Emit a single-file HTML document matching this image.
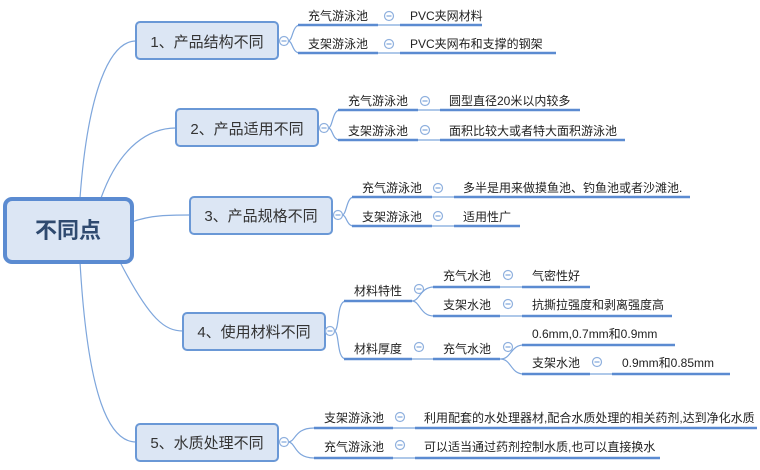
<!DOCTYPE html>
<html><head><meta charset="utf-8"><style>
html,body{margin:0;padding:0;background:#fff;}
svg{display:block;}
text{font-family:"Liberation Sans","Noto Sans CJK SC",sans-serif;fill:#222;}
.b{font-size:15px;fill:#333;}
.l{font-size:12px;}
.u{stroke:#5b8bd1;stroke-width:2.5;fill:none;}
.c{stroke:#7ea6dc;stroke-width:1.2;fill:none;}
.bx{fill:#dce6f4;stroke:#6a98d6;stroke-width:2;}
</style></head><body>
<svg width="760" height="470" viewBox="0 0 760 470" xmlns="http://www.w3.org/2000/svg">
<defs>
<g id="m"><circle cx="0" cy="0" r="4.5" fill="#fff" stroke="#8fb0de" stroke-width="1.2"/><line x1="-2.5" y1="0" x2="2.5" y2="0" stroke="#7ea6dc" stroke-width="1.2"/></g>
</defs>
<path class="c" d="M80,198 C88,90 110,41 136,41"/>
<path class="c" d="M101,198 C120,145 150,128 176,128"/>
<path class="c" d="M132,222 C150,215 170,215 190,215"/>
<path class="c" d="M120,262 C150,320 165,331 183,331"/>
<path class="c" d="M80,262 C88,400 110,442 136,442"/>
<rect x="5" y="199" width="127" height="63" rx="7" fill="#dce6f4" stroke="#5b8bd1" stroke-width="4"/>
<text x="68" y="238" text-anchor="middle" style="font-size:22px;font-weight:bold;fill:#2f4a6f">不同点</text>
<rect class="bx" x="136" y="22" width="142" height="37" rx="4"/><text class="b" x="207" y="47" text-anchor="middle">1、产品结构不同</text>
<rect class="bx" x="176" y="109" width="142" height="37" rx="4"/><text class="b" x="247" y="134" text-anchor="middle">2、产品适用不同</text>
<rect class="bx" x="190" y="197" width="142" height="37" rx="4"/><text class="b" x="261" y="221" text-anchor="middle">3、产品规格不同</text>
<rect class="bx" x="183" y="313" width="142" height="37" rx="4"/><text class="b" x="254" y="337" text-anchor="middle">4、使用材料不同</text>
<rect class="bx" x="136" y="424" width="142" height="37" rx="4"/><text class="b" x="207" y="448" text-anchor="middle">5、水质处理不同</text>

<path class="c" d="M288,41 C293,41 292,25 300,25 M288,41 C293,41 292,53 300,53"/>
<use href="#m" x="284" y="41"/>
<line class="u" x1="298" y1="25" x2="378" y2="25"/><text class="l" x="308" y="20">充气游泳池</text>
<line class="u" x1="298" y1="53" x2="378" y2="53"/><text class="l" x="308" y="48">支架游泳池</text>
<line class="c" x1="378" y1="25" x2="400" y2="25"/><line class="c" x1="378" y1="53" x2="400" y2="53"/>
<use href="#m" x="389" y="16"/><use href="#m" x="389" y="44"/>
<line class="u" x1="400" y1="25" x2="482" y2="25"/><text class="l" x="410" y="20">PVC夹网材料</text>
<line class="u" x1="400" y1="53" x2="556" y2="53"/><text class="l" x="410" y="48">PVC夹网布和支撑的钢架</text>

<path class="c" d="M328,128 C333,128 332,110 340,110 M328,128 C333,128 332,140 340,140"/>
<use href="#m" x="324" y="128"/>
<line class="u" x1="338" y1="110" x2="418" y2="110"/><text class="l" x="348" y="105">充气游泳池</text>
<line class="u" x1="338" y1="140" x2="418" y2="140"/><text class="l" x="348" y="135">支架游泳池</text>
<line class="c" x1="418" y1="110" x2="440" y2="110"/><line class="c" x1="418" y1="140" x2="440" y2="140"/>
<use href="#m" x="425" y="101"/><use href="#m" x="425" y="130"/>
<line class="u" x1="440" y1="110" x2="580" y2="110"/><text class="l" x="449" y="105">圆型直径20米以内较多</text>
<line class="u" x1="440" y1="140" x2="625" y2="140"/><text class="l" x="449" y="135">面积比较大或者特大面积游泳池</text>

<path class="c" d="M342,215 C347,215 346,197 354,197 M342,215 C347,215 346,226 354,226"/>
<use href="#m" x="338" y="215"/>
<line class="u" x1="352" y1="197" x2="432" y2="197"/><text class="l" x="362" y="192">充气游泳池</text>
<line class="u" x1="352" y1="226" x2="432" y2="226"/><text class="l" x="362" y="221">支架游泳池</text>
<line class="c" x1="432" y1="197" x2="454" y2="197"/><line class="c" x1="432" y1="226" x2="454" y2="226"/>
<use href="#m" x="438" y="188"/><use href="#m" x="438" y="216"/>
<line class="u" x1="454" y1="197" x2="690" y2="197"/><text class="l" x="463" y="192">多半是用来做摸鱼池、钓鱼池或者沙滩池.</text>
<line class="u" x1="454" y1="226" x2="520" y2="226"/><text class="l" x="463" y="221">适用性广</text>

<path class="c" d="M334,331 C340,331 336,301 346,301 M334,331 C340,331 336,359 346,359"/>
<use href="#m" x="330" y="331"/>
<line class="u" x1="344" y1="301" x2="412" y2="301"/><text class="l" x="354" y="295">材料特性</text>
<line class="u" x1="344" y1="359" x2="412" y2="359"/><text class="l" x="354" y="353">材料厚度</text>
<use href="#m" x="419" y="289"/><use href="#m" x="419" y="347"/>
<path class="c" d="M412,301 C420,301 420,287 434,287 M412,301 C420,301 420,316 434,316"/>
<line class="c" x1="412" y1="359" x2="434" y2="359"/>
<line class="u" x1="433" y1="287" x2="500" y2="287"/><text class="l" x="443" y="280">充气水池</text>
<line class="u" x1="433" y1="316" x2="500" y2="316"/><text class="l" x="443" y="309">支架水池</text>
<line class="u" x1="433" y1="359" x2="500" y2="359"/><text class="l" x="443" y="353">充气水池</text>
<line class="c" x1="500" y1="287" x2="522" y2="287"/><line class="c" x1="500" y1="316" x2="522" y2="316"/>
<use href="#m" x="508" y="275"/><use href="#m" x="508" y="304"/><use href="#m" x="508" y="347"/>
<line class="u" x1="522" y1="287" x2="590" y2="287"/><text class="l" x="532" y="280">气密性好</text>
<line class="u" x1="522" y1="316" x2="672" y2="316"/><text class="l" x="532" y="309">抗撕拉强度和剥离强度高</text>
<path class="c" d="M500,359 C512,359 510,345 524,345 M500,359 C512,359 510,374 524,374"/>
<line class="u" x1="522" y1="345" x2="675" y2="345"/><text class="l" x="532" y="338">0.6mm,0.7mm和0.9mm</text>
<line class="u" x1="522" y1="374" x2="590" y2="374"/><text class="l" x="532" y="367">支架水池</text>
<line class="c" x1="590" y1="374" x2="612" y2="374"/>
<use href="#m" x="597" y="362"/>
<line class="u" x1="612" y1="374" x2="730" y2="374"/><text class="l" x="622" y="367">0.9mm和0.85mm</text>

<path class="c" d="M288,442 C296,442 294,428 314,428 M288,442 C296,442 294,458 314,458"/>
<use href="#m" x="284" y="442"/>
<line class="u" x1="314" y1="428" x2="393" y2="428"/><text class="l" x="324" y="422">支架游泳池</text>
<line class="u" x1="314" y1="458" x2="393" y2="458"/><text class="l" x="324" y="451">充气游泳池</text>
<line class="c" x1="393" y1="428" x2="415" y2="428"/><line class="c" x1="393" y1="458" x2="415" y2="458"/>
<use href="#m" x="400" y="417"/><use href="#m" x="400" y="445"/>
<line class="u" x1="415" y1="428" x2="757" y2="428"/><text class="l" x="424" y="422">利用配套的水处理器材,配合水质处理的相关药剂,达到净化水质</text>
<line class="u" x1="415" y1="458" x2="660" y2="458"/><text class="l" x="424" y="451">可以适当通过药剂控制水质,也可以直接换水</text>
</svg>
</body></html>
